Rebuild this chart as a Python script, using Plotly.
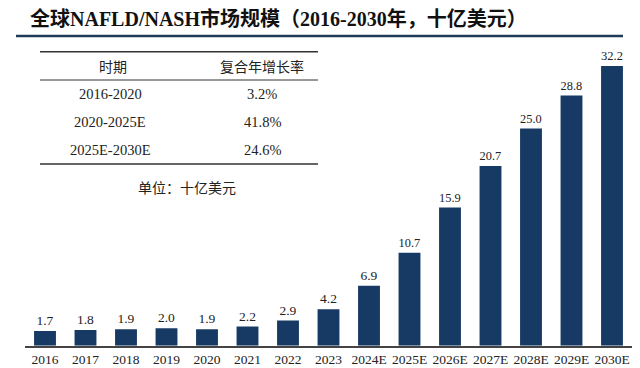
import plotly.graph_objects as go

categories = ["2016", "2017", "2018", "2019", "2020", "2021", "2022", "2023",
              "2024E", "2025E", "2026E", "2027E", "2028E", "2029E", "2030E"]
values = [1.7, 1.8, 1.9, 2.0, 1.9, 2.2, 2.9, 4.2, 6.9, 10.7, 15.9, 20.7, 25.0, 28.8, 32.2]
value_labels = ["1.7", "1.8", "1.9", "2.0", "1.9", "2.2", "2.9", "4.2", "6.9", "10.7",
                "15.9", "20.7", "25.0", "28.8", "32.2"]

table_header = ["时期", "复合年增长率"]
table_periods = ["2016-2020", "2020-2025E", "2025E-2030E"]
table_cagr = ["3.2%", "41.8%", "24.6%"]

title_text = "全球NAFLD/NASH市场规模（2016-2030年，十亿美元）"
unit_text = "单位：十亿美元"

W, H = 640, 368
BAR = "#163a63"
SERIF = "Liberation Serif, Times New Roman, Noto Sans CJK SC, serif"
CJK = "Noto Sans CJK SC, sans-serif"
TXT = "#222222"


def px(x):
    return x / W


def py(y):
    return 1 - y / H


fig = go.Figure()
fig.add_trace(go.Bar(
    x=categories, y=values, text=value_labels, textposition="outside",
    textfont=dict(family=SERIF, size=13.5, color=TXT),
    marker=dict(color=BAR, line=dict(width=0)),
    width=0.54, cliponaxis=False, hoverinfo="skip",
))

shapes = []
annotations = []


def note(x, y, text, font, xanchor="center"):
    annotations.append(dict(x=px(x), y=py(y), xref="paper", yref="paper", text=text, showarrow=False,
                            xanchor=xanchor, yanchor="middle", font=font))


# title + underline
note(28, 18, "<b>" + title_text + "</b>", dict(family=SERIF, size=20, color="#111111"), xanchor="left")
shapes.append(dict(type="line", xref="paper", yref="paper", x0=px(16), x1=px(623), y0=py(36), y1=py(36),
                   line=dict(color="#1f3a5a", width=2.5)))

# table lines
for yy, w in [(51.7, 1.5), (80, 1), (164, 1.5)]:
    shapes.append(dict(type="line", xref="paper", yref="paper", x0=px(40), x1=px(318), y0=py(yy), y1=py(yy),
                       line=dict(color="#333333", width=w)))

# table text
note(113, 66.5, table_header[0], dict(family=CJK, size=14, color=TXT))
note(262, 66.5, table_header[1], dict(family=CJK, size=14, color=TXT))
row_y = [94, 122.5, 150]
for p, c, yy in zip(table_periods, table_cagr, row_y):
    note(110, yy, p, dict(family=SERIF, size=14.5, color=TXT))
    note(262, yy, c, dict(family=SERIF, size=14.5, color=TXT))
note(187, 187, unit_text, dict(family=CJK, size=14, color=TXT))

fig.update_layout(
    width=W, height=H, margin=dict(l=0, r=0, t=0, b=0, autoexpand=False),
    paper_bgcolor="white", plot_bgcolor="white",
    showlegend=False,
    shapes=shapes, annotations=annotations,
    xaxis=dict(domain=[px(24.75), px(632.25)], showline=True, linecolor="#444444", linewidth=1.5,
               ticks="", showgrid=False, tickfont=dict(family=SERIF, size=13.5, color=TXT),
               type="category", fixedrange=True, automargin=False),
    yaxis=dict(domain=[1 - 345.7 / H, 1 - 33 / H], range=[0, 36], visible=False, showgrid=False,
               fixedrange=True, automargin=False),
)

fig.write_html("out.html", config={"displayModeBar": False},
               post_script="document.body.style.margin='0';document.body.style.overflow='hidden';")
